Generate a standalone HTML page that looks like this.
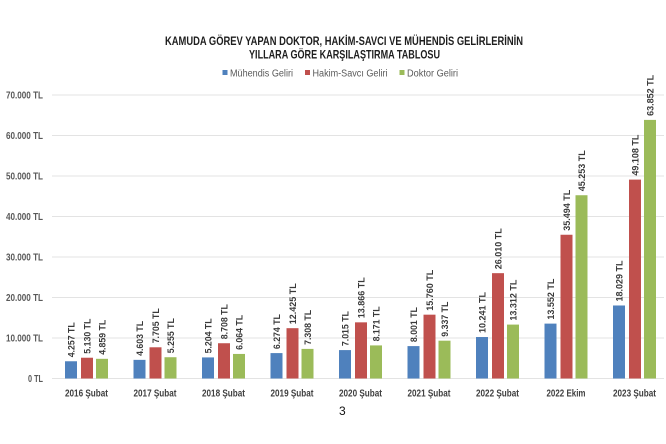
<!DOCTYPE html>
<html>
<head>
<meta charset="utf-8">
<style>
html,body{margin:0;padding:0;background:#fff;}
svg{display:block;}
text{font-family:"Liberation Sans", "DejaVu Sans", sans-serif;}
.t{font-weight:bold;font-size:11.5px;fill:#1e1e1e;}
.lg{font-size:10px;fill:#595959;}
.tk{font-size:10px;fill:#595959;font-weight:bold;}
.ct{font-size:10px;fill:#404040;font-weight:bold;}
.dl{font-size:9.5px;fill:#3a3a3a;font-weight:bold;}
</style>
</head>
<body>
<svg width="666" height="444" viewBox="0 0 666 444" xmlns="http://www.w3.org/2000/svg">
<rect width="666" height="444" fill="#fff"/>
<!-- Title -->
<text class="t" x="165" y="45" textLength="358" lengthAdjust="spacingAndGlyphs">KAMUDA GÖREV YAPAN DOKTOR, HAKİM-SAVCI VE MÜHENDİS GELİRLERİNİN</text>
<text class="t" x="249" y="58.5" textLength="191" lengthAdjust="spacingAndGlyphs">YILLARA GÖRE KARŞILAŞTIRMA TABLOSU</text>
<!-- Legend -->
<rect x="222.5" y="70" width="5" height="5" fill="#4f81bd"/>
<text class="lg" x="230" y="76.5" textLength="63" lengthAdjust="spacingAndGlyphs">Mühendis Geliri</text>
<rect x="305" y="70" width="5" height="5" fill="#c0504d"/>
<text class="lg" x="312.5" y="76.5" textLength="75" lengthAdjust="spacingAndGlyphs">Hakim-Savcı Geliri</text>
<rect x="399.5" y="70" width="5" height="5" fill="#9bbb59"/>
<text class="lg" x="407" y="76.5" textLength="51" lengthAdjust="spacingAndGlyphs">Doktor Geliri</text>
<!-- Gridlines -->
<g stroke="#e3e3e3" stroke-width="1">
<line x1="52" y1="95" x2="664" y2="95"/>
<line x1="52" y1="135.5" x2="664" y2="135.5"/>
<line x1="52" y1="176" x2="664" y2="176"/>
<line x1="52" y1="216.5" x2="664" y2="216.5"/>
<line x1="52" y1="257" x2="664" y2="257"/>
<line x1="52" y1="297.5" x2="664" y2="297.5"/>
<line x1="52" y1="338" x2="664" y2="338"/>
<line x1="52" y1="378.5" x2="664" y2="378.5"/>
</g>
<!-- Tick labels -->
<g text-anchor="end">
<text class="tk" x="43" y="98.5" textLength="37" lengthAdjust="spacingAndGlyphs">70.000 TL</text>
<text class="tk" x="43" y="139" textLength="37" lengthAdjust="spacingAndGlyphs">60.000 TL</text>
<text class="tk" x="43" y="179.5" textLength="37" lengthAdjust="spacingAndGlyphs">50.000 TL</text>
<text class="tk" x="43" y="220" textLength="37" lengthAdjust="spacingAndGlyphs">40.000 TL</text>
<text class="tk" x="43" y="260.5" textLength="37" lengthAdjust="spacingAndGlyphs">30.000 TL</text>
<text class="tk" x="43" y="301" textLength="37" lengthAdjust="spacingAndGlyphs">20.000 TL</text>
<text class="tk" x="43" y="341.5" textLength="37" lengthAdjust="spacingAndGlyphs">10.000 TL</text>
<text class="tk" x="43" y="382" textLength="15" lengthAdjust="spacingAndGlyphs">0 TL</text>
</g>
<!-- Blue bars -->
<g fill="#4f81bd">
<rect x="65" y="361.26" width="12" height="17.24"/>
<rect x="133.5" y="359.86" width="12" height="18.64"/>
<rect x="202" y="357.42" width="12" height="21.08"/>
<rect x="270.5" y="353.09" width="12" height="25.41"/>
<rect x="339" y="350.09" width="12" height="28.41"/>
<rect x="407.5" y="346.1" width="12" height="32.4"/>
<rect x="476" y="337.02" width="12" height="41.48"/>
<rect x="544.5" y="323.61" width="12" height="54.89"/>
<rect x="613" y="305.48" width="12" height="73.02"/>
</g>
<!-- Red bars -->
<g fill="#c0504d">
<rect x="81" y="357.72" width="12" height="20.78"/>
<rect x="149.5" y="347.29" width="12" height="31.21"/>
<rect x="218" y="343.23" width="12" height="35.27"/>
<rect x="286.5" y="328.18" width="12" height="50.32"/>
<rect x="355" y="322.34" width="12" height="56.16"/>
<rect x="423.5" y="314.67" width="12" height="63.83"/>
<rect x="492" y="273.16" width="12" height="105.34"/>
<rect x="560.5" y="234.75" width="12" height="143.75"/>
<rect x="629" y="179.61" width="12" height="198.89"/>
</g>
<!-- Green bars -->
<g fill="#9bbb59">
<rect x="96" y="358.82" width="12" height="19.68"/>
<rect x="164.5" y="357.22" width="12" height="21.28"/>
<rect x="233" y="353.94" width="12" height="24.56"/>
<rect x="301.5" y="348.9" width="12" height="29.6"/>
<rect x="370" y="345.41" width="12" height="33.09"/>
<rect x="438.5" y="340.69" width="12" height="37.81"/>
<rect x="507" y="324.59" width="12" height="53.91"/>
<rect x="575.5" y="195.23" width="12" height="183.27"/>
<rect x="644" y="119.9" width="12" height="258.6"/>
</g>
<!-- Data labels: blue -->
<g>
<text class="dl" textLength="35" lengthAdjust="spacingAndGlyphs" transform="translate(74.5,357.3) rotate(-90)">4.257 TL</text>
<text class="dl" textLength="35" lengthAdjust="spacingAndGlyphs" transform="translate(143,355.9) rotate(-90)">4.603 TL</text>
<text class="dl" textLength="35" lengthAdjust="spacingAndGlyphs" transform="translate(211.5,353.4) rotate(-90)">5.204 TL</text>
<text class="dl" textLength="35" lengthAdjust="spacingAndGlyphs" transform="translate(280,349.1) rotate(-90)">6.274 TL</text>
<text class="dl" textLength="35" lengthAdjust="spacingAndGlyphs" transform="translate(348.5,346.1) rotate(-90)">7.015 TL</text>
<text class="dl" textLength="35" lengthAdjust="spacingAndGlyphs" transform="translate(417,342.1) rotate(-90)">8.001 TL</text>
<text class="dl" textLength="41" lengthAdjust="spacingAndGlyphs" transform="translate(485.5,333) rotate(-90)">10.241 TL</text>
<text class="dl" textLength="41" lengthAdjust="spacingAndGlyphs" transform="translate(554,319.6) rotate(-90)">13.552 TL</text>
<text class="dl" textLength="41" lengthAdjust="spacingAndGlyphs" transform="translate(622.5,301.5) rotate(-90)">18.029 TL</text>
<!-- red -->
<text class="dl" textLength="35" lengthAdjust="spacingAndGlyphs" transform="translate(90.5,353.7) rotate(-90)">5.130 TL</text>
<text class="dl" textLength="35" lengthAdjust="spacingAndGlyphs" transform="translate(159,343.3) rotate(-90)">7.705 TL</text>
<text class="dl" textLength="35" lengthAdjust="spacingAndGlyphs" transform="translate(227.5,339.2) rotate(-90)">8.708 TL</text>
<text class="dl" textLength="41" lengthAdjust="spacingAndGlyphs" transform="translate(296,324.2) rotate(-90)">12.425 TL</text>
<text class="dl" textLength="41" lengthAdjust="spacingAndGlyphs" transform="translate(364.5,318.3) rotate(-90)">13.866 TL</text>
<text class="dl" textLength="41" lengthAdjust="spacingAndGlyphs" transform="translate(433,310.7) rotate(-90)">15.760 TL</text>
<text class="dl" textLength="41" lengthAdjust="spacingAndGlyphs" transform="translate(501.5,269.2) rotate(-90)">26.010 TL</text>
<text class="dl" textLength="41" lengthAdjust="spacingAndGlyphs" transform="translate(570,230.8) rotate(-90)">35.494 TL</text>
<text class="dl" textLength="41" lengthAdjust="spacingAndGlyphs" transform="translate(638.5,175.6) rotate(-90)">49.108 TL</text>
<!-- green -->
<text class="dl" textLength="35" lengthAdjust="spacingAndGlyphs" transform="translate(105.5,354.8) rotate(-90)">4.859 TL</text>
<text class="dl" textLength="35" lengthAdjust="spacingAndGlyphs" transform="translate(174,353.2) rotate(-90)">5.255 TL</text>
<text class="dl" textLength="35" lengthAdjust="spacingAndGlyphs" transform="translate(242.5,349.9) rotate(-90)">6.064 TL</text>
<text class="dl" textLength="35" lengthAdjust="spacingAndGlyphs" transform="translate(311,344.9) rotate(-90)">7.308 TL</text>
<text class="dl" textLength="35" lengthAdjust="spacingAndGlyphs" transform="translate(379.5,341.4) rotate(-90)">8.171 TL</text>
<text class="dl" textLength="35" lengthAdjust="spacingAndGlyphs" transform="translate(448,336.7) rotate(-90)">9.337 TL</text>
<text class="dl" textLength="41" lengthAdjust="spacingAndGlyphs" transform="translate(516.5,320.6) rotate(-90)">13.312 TL</text>
<text class="dl" textLength="41" lengthAdjust="spacingAndGlyphs" transform="translate(585,191.2) rotate(-90)">45.253 TL</text>
<text class="dl" textLength="41" lengthAdjust="spacingAndGlyphs" transform="translate(653.5,115.9) rotate(-90)">63.852 TL</text>
</g>
<!-- Category labels -->
<g text-anchor="middle">
<text class="ct" x="86.5" y="396.5" textLength="43" lengthAdjust="spacingAndGlyphs">2016 Şubat</text>
<text class="ct" x="155" y="396.5" textLength="43" lengthAdjust="spacingAndGlyphs">2017 Şubat</text>
<text class="ct" x="223.5" y="396.5" textLength="43" lengthAdjust="spacingAndGlyphs">2018 Şubat</text>
<text class="ct" x="292" y="396.5" textLength="43" lengthAdjust="spacingAndGlyphs">2019 Şubat</text>
<text class="ct" x="360.5" y="396.5" textLength="43" lengthAdjust="spacingAndGlyphs">2020 Şubat</text>
<text class="ct" x="429" y="396.5" textLength="43" lengthAdjust="spacingAndGlyphs">2021 Şubat</text>
<text class="ct" x="497.5" y="396.5" textLength="43" lengthAdjust="spacingAndGlyphs">2022 Şubat</text>
<text class="ct" x="566" y="396.5" textLength="39" lengthAdjust="spacingAndGlyphs">2022 Ekim</text>
<text class="ct" x="634.5" y="396.5" textLength="43" lengthAdjust="spacingAndGlyphs">2023 Şubat</text>
</g>
<!-- Page number -->
<text x="339" y="415" style="font-size:12px;fill:#111;">3</text>
</svg>
</body>
</html>
